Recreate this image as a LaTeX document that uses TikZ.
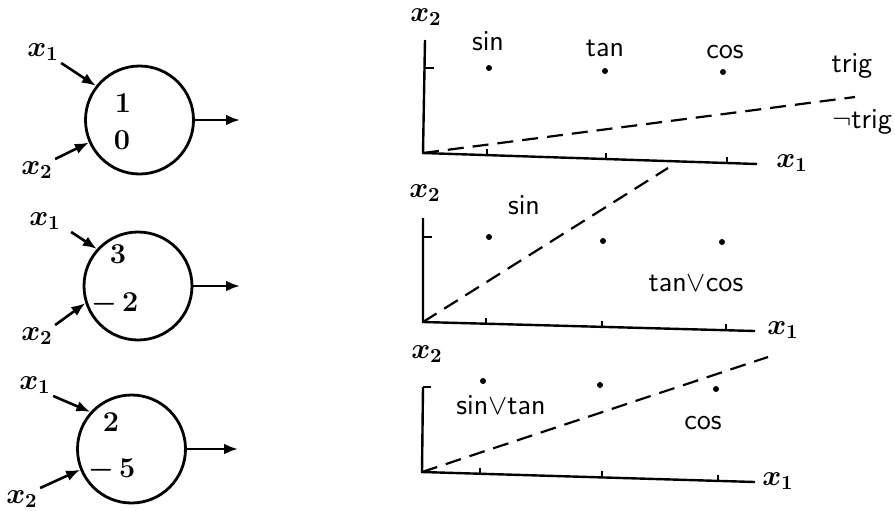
\documentclass[tikz,border=0pt]{standalone}
\usepackage{bm}
\usepackage{tikz}
\usetikzlibrary{positioning, arrows.meta}

\tikzset{
  neuron/.style={draw, circle, line width=1.4pt, minimum size=54pt, inner sep=0pt},
  signal/.style={line width=1.3pt, -{Latex[length=7pt, width=5.4pt]}},
  inlabel/.style={font=\Large, inner sep=1pt},
  weight/.style={font=\Large\bfseries, inner sep=0pt},
  axis/.style={line width=1.2pt},
  divider/.style={line width=1.1pt, dash pattern=on 8pt off 4.5pt},
  sample/.style={circle, fill, inner sep=0pt, minimum size=3pt},
  region/.style={font=\sffamily\Large, inner sep=0pt, anchor=base}
}

\begin{document}
\begin{tikzpicture}[x=0.5pt, y=-0.5pt]
  \useasboundingbox (0,0) rectangle (895,510);

  % threshold units
  \node[neuron] (n1) at (139.5,120) {};
  \node[neuron] (n2) at (138,286) {};
  \node[neuron] (n3) at (131.5,449) {};

  \node[inlabel] (in11) at (43,52) {$\bm{x_1}$};
  \node[inlabel] (in12) at (37,170) {$\bm{x_2}$};
  \node[inlabel] (in21) at (45,221) {$\bm{x_1}$};
  \node[inlabel] (in22) at (37,336) {$\bm{x_2}$};
  \node[inlabel] (in31) at (35,385) {$\bm{x_1}$};
  \node[inlabel] (in32) at (22,499) {$\bm{x_2}$};

  \node[weight] (w11) at (123,103) {1};
  \node[weight] (w12) at (122,140) {0};
  \node[weight] (w21) at (118,254) {3};
  \node[weight] (w22) at (115,304) {$\bm{-\,2}$};
  \node[weight] (w31) at (111,422) {2};
  \node[weight] (w32) at (112,470) {$\bm{-\,5}$};

  \coordinate (out1) at (240,120);
  \coordinate (out2) at (240,286);
  \coordinate (out3) at (238,449);

  \draw[signal] (in11.south east) -- (n1.142);
  \draw[signal] (in12.north east) -- (n1.204);
  \draw[signal] (n1.east) -- (out1);
  \draw[signal] ([xshift=4pt]in21.south east) -- (n2.138);
  \draw[signal] (in22.north east) -- (n2.198);
  \draw[signal] (n2.east) -- (out2);
  \draw[signal] (in31.south east) -- (n3.138);
  \draw[signal] (in32.north east) -- (n3.202);
  \draw[signal] (n3.east) -- (out3);

  % decision planes
  \coordinate (o1) at (423,153);
  \coordinate (ytop1) at (425,40);
  \coordinate (xend1) at (757,164);
  \draw[axis] (ytop1) -- (o1) -- (xend1);
  \draw[axis] (424.5,68) -- ++(9,0);
  \foreach \x/\y in {487/155.1, 606/159, 727/163}
    \draw[axis] (\x,\y) -- ++(0,-6);
  \node[sample] (sin1) at (489,68) {};
  \node[sample] (tan1) at (605,71) {};
  \node[sample] (cos1) at (723,72) {};
  \node[region] (lsin1) at (488,50) {sin};
  \node[region] (ltan1) at (605,56) {tan};
  \node[region] (lcos1) at (725,58) {cos};
  \node[region] (ltrig) at (852,72) {trig};
  \node[region] (lnottrig) at (862,128) {$\neg$trig};
  \coordinate (d1) at (855,97);
  \draw[divider] (o1) -- (d1);
  \node[inlabel] (x2p1) at (426,17) {$\bm{x_2}$};
  \node[inlabel] (x1p1) at (792,163) {$\bm{x_1}$};

  \coordinate (o2) at (423,322);
  \coordinate (ytop2) at (423,218);
  \coordinate (xend2) at (755,331);
  \draw[axis] (ytop2) -- (o2) -- (xend2);
  \draw[axis] (423,237) -- ++(9,0);
  \foreach \x/\y in {486/323.7, 602/326.9, 726/330.2}
    \draw[axis] (\x,\y) -- ++(0,-6);
  \node[sample] (sin2) at (489,237) {};
  \node[sample] (tan2) at (603,241) {};
  \node[sample] (cos2) at (722,242) {};
  \node[region] (lsin2) at (524,214) {sin};
  \node[region] (ltancos) at (696,291) {tan$\vee$cos};
  \coordinate (d2) at (668,168);
  \draw[divider] (o2) -- (d2);
  \node[inlabel] (x2p2) at (425,193) {$\bm{x_2}$};
  \node[inlabel] (x1p2) at (783,330) {$\bm{x_1}$};

  \coordinate (o3) at (422,472);
  \coordinate (ytop3) at (423,387);
  \coordinate (xend3) at (755,482);
  \draw[axis] (ytop3) -- (o3) -- (xend3);
  \draw[axis] (423,387) -- ++(8,0);
  \foreach \x/\y in {480/473.7, 602/477.4, 718/480.9}
    \draw[axis] (\x,\y) -- ++(0,-6);
  \node[sample] (sin3) at (483,381) {};
  \node[sample] (tan3) at (600,385) {};
  \node[sample] (cos3) at (716,389) {};
  \node[region] (lsintan) at (501,414) {sin$\vee$tan};
  \node[region] (lcos3) at (703,429) {cos};
  \coordinate (d3) at (768,357);
  \draw[divider] (o3) -- (d3);
  \node[inlabel] (x2p3) at (427,354) {$\bm{x_2}$};
  \node[inlabel] (x1p3) at (778,481) {$\bm{x_1}$};
\end{tikzpicture}
\end{document}
